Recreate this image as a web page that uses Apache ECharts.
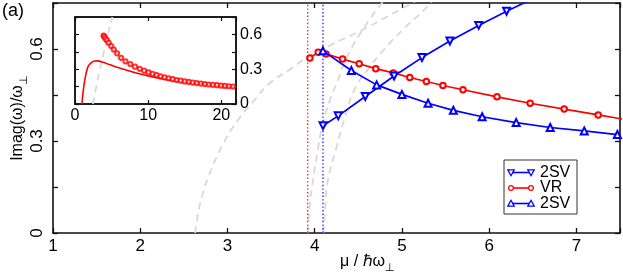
<!DOCTYPE html>
<html>
<head>
<meta charset="utf-8">
<script src="https://cdn.jsdelivr.net/npm/echarts@6/dist/echarts.min.js"></script>
<style>html,body{margin:0;padding:0;background:#fff}#c{width:623px;height:273px}</style>
</head>
<body>
<div id="c"></div>
<script>
// ---------- data ----------
// main panel
const xTicks = [1, 2, 3, 4, 5, 6, 7];
const yTickLabels = ['0', '0.3', '0.6'];
const yTickValues = [0, 0.3, 0.6];

const vrX = [3.945, 4.04, 4.13, 4.32, 4.51, 4.70, 4.90, 5.09, 5.28, 5.47, 5.70, 6.09, 6.47, 6.86, 7.25, 7.64];
const vrY = [0.571, 0.589, 0.584, 0.567, 0.552, 0.536, 0.522, 0.507, 0.494, 0.481, 0.467, 0.444, 0.423, 0.404, 0.385, 0.366];

const svDownX = [4.095, 4.27, 4.58, 4.91, 5.23, 5.55, 5.88, 6.20, 6.53];
const svDownY = [0.350, 0.382, 0.445, 0.512, 0.572, 0.626, 0.677, 0.723, 0.768];

const svUpX = [4.095, 4.42, 4.71, 5.00, 5.30, 5.59, 5.92, 6.31, 6.70, 7.09, 7.47];
const svUpY = [0.594, 0.530, 0.483, 0.452, 0.423, 0.400, 0.379, 0.360, 0.344, 0.333, 0.321];

const grayAX = [2.63, 2.66, 2.72, 2.80, 2.95, 3.10, 3.30, 3.49, 3.70, 3.90, 4.20, 4.55, 4.86, 5.15];
const grayAY = [0.00, 0.06, 0.13, 0.197, 0.29, 0.36, 0.43, 0.49, 0.53, 0.57, 0.615, 0.663, 0.71, 0.755];
const grayBX = [3.92, 3.94, 3.98, 4.03, 4.08, 4.17, 4.27, 4.38, 4.59, 4.80];
const grayBY = [0.00, 0.08, 0.17, 0.26, 0.34, 0.43, 0.50, 0.58, 0.68, 0.76];
const grayCX = [4.10, 4.12, 4.15, 4.25, 4.36, 4.46, 4.60, 4.80, 5.00, 5.30, 5.35];
const grayCY = [0.00, 0.08, 0.17, 0.28, 0.39, 0.47, 0.53, 0.60, 0.66, 0.74, 0.76];

const vrThreshold = 3.92;
const svThreshold = 4.095;

// inset
const insetXTicks = [0, 10, 20];
const insetLineX = [0.95, 1.1, 1.32, 1.76, 2.2, 2.7, 3.1, 3.6, 4.3, 5.5, 7.0, 8.5, 10, 12, 14, 16, 18, 20, 22];
const insetLineY = [0.0, 0.10, 0.20, 0.32, 0.355, 0.37, 0.372, 0.365, 0.35, 0.322, 0.293, 0.265, 0.241, 0.216, 0.196, 0.181, 0.167, 0.155, 0.143];
const insetDotX = [3.9, 4.0, 4.15, 4.35, 4.6, 4.95, 5.3, 5.75, 6.3, 6.9, 7.55, 8.2, 8.85, 9.45, 10.05, 10.6, 11.15, 11.7, 12.25, 12.8, 13.35, 13.9, 14.45, 15.0, 15.55, 16.1, 16.65, 17.2, 17.75, 18.3, 18.85, 19.4, 19.95, 20.5, 21.05, 21.6];
const insetDotY = [0.59, 0.58, 0.565, 0.55, 0.528, 0.50, 0.47, 0.437, 0.398, 0.368, 0.345, 0.322, 0.303, 0.287, 0.272, 0.26, 0.249, 0.239, 0.23, 0.222, 0.214, 0.207, 0.201, 0.195, 0.19, 0.185, 0.18, 0.176, 0.172, 0.168, 0.165, 0.162, 0.159, 0.156, 0.153, 0.15];
const insetGrayX = [2.45, 3.0, 3.4, 4.2, 5.1];
const insetGrayY = [0.0, 0.18, 0.30, 0.52, 0.75];

const legendNames = ['2SV', 'VR', '2SV'];

// ---------- helpers ----------
const zip = (xs, ys) => xs.map((x, i) => [x, ys[i]]);
const FONT = "'Liberation Sans', Arial, Helvetica, sans-serif";
const RED = '#ff0000', BLUE = '#0000ff', GRAY = '#d8d8d8';
const near = (v, arr) => arr.findIndex(a => Math.abs(a - v) < 1e-6);

function tickAxis(extra) {
  return Object.assign({
    type: 'value',
    axisLine: { show: true, onZero: false, lineStyle: { color: '#111', width: 1.6 } },
    axisTick: { show: true, inside: true, length: 5, lineStyle: { color: '#111', width: 1.3 } },
    splitLine: { show: false },
    axisLabel: { show: false }
  }, extra);
}

const chart = echarts.init(document.getElementById('c'), null, { renderer: 'canvas' });

const dashed = (xs, ys, xi, yi) => ({
  type: 'line', xAxisIndex: xi, yAxisIndex: yi, data: zip(xs, ys), smooth: true, showSymbol: false,
  symbol: 'none', lineStyle: { color: GRAY, width: 1.8, type: [7, 5] }, z: 1, silent: true
});

const vline = (x, color) => ({
  type: 'line', xAxisIndex: 0, yAxisIndex: 0, data: [[x, 0], [x, 0.75]], symbol: 'none',
  lineStyle: { color: color, width: 1.2, type: [1.4, 2.2] }, z: 2, silent: true
});

// legend graphic (not data)
const LG = { x: 504, y: 160, w: 73, h: 54 };
const legendStyles = [
  { color: BLUE, shape: 'down' },
  { color: RED, shape: 'circle' },
  { color: BLUE, shape: 'up' }
];
function legendMarker(cx, cy, st) {
  if (st.shape === 'circle') {
    return { type: 'circle', shape: { cx: cx, cy: cy, r: 2.4 }, style: { fill: '#fff', stroke: st.color, lineWidth: 1.2 } };
  }
  const s = 3.2;
  const pts = st.shape === 'up'
    ? [[cx, cy - s], [cx + s, cy + s * 0.8], [cx - s, cy + s * 0.8]]
    : [[cx, cy + s], [cx + s, cy - s * 0.8], [cx - s, cy - s * 0.8]];
  return { type: 'polygon', shape: { points: pts }, style: { fill: '#fff', stroke: st.color, lineWidth: 1.3 } };
}
const legendChildren = [{ type: 'rect', shape: { x: LG.x, y: LG.y, width: LG.w, height: LG.h }, style: { fill: '#fff', stroke: '#333', lineWidth: 1 } }];
legendNames.forEach((n, i) => {
  const cy = LG.y + 12.5 + i * 15.5;
  const st = legendStyles[i];
  legendChildren.push({ type: 'line', shape: { x1: LG.x + 7, y1: cy, x2: LG.x + 27, y2: cy }, style: { stroke: st.color, lineWidth: 1.6 } });
  legendChildren.push(legendMarker(LG.x + 7, cy, st));
  legendChildren.push(legendMarker(LG.x + 27, cy, st));
  legendChildren.push({ type: 'text', x: LG.x + 36, y: cy, style: { text: n, font: '16px ' + FONT, fill: '#000', verticalAlign: 'middle' } });
});

const option = {
  animation: false,
  backgroundColor: '#fff',
  grid: [
    { left: 53, top: 3, right: 3, bottom: 40, show: false, containLabel: false, outerBoundsMode: 'none' },
    { left: 75, top: 17, width: 161, height: 87, show: true, backgroundColor: '#fff', borderColor: '#111', borderWidth: 1.5, z: 3, containLabel: false, outerBoundsMode: 'none' }
  ],
  xAxis: [
    tickAxis({
      gridIndex: 0, position: 'bottom', min: 1, max: 7.5, interval: 1,
      axisLabel: {
        show: true, margin: 5, fontSize: 17, fontFamily: FONT, color: '#000',
        formatter: v => (near(v, xTicks) >= 0 ? String(xTicks[near(v, xTicks)]) : '')
      },
      name: '{t|μ / ℏω}{s|⊥}', nameLocation: 'middle', nameGap: 21, nameMoveOverlap: false,
      nameTextStyle: {
        padding: [0, 0, 0, 62],
        rich: {
          t: { fontSize: 16, fontFamily: FONT, color: '#000', lineHeight: 16, verticalAlign: 'top' },
          s: { fontSize: 11, fontFamily: FONT, color: '#000', lineHeight: 11, padding: [8, 0, 0, 0], verticalAlign: 'top' }
        }
      }
    }),
    tickAxis({ gridIndex: 0, position: 'top', min: 1, max: 7.5, interval: 1 }),
    tickAxis({
      gridIndex: 1, position: 'bottom', min: 0, max: 22, interval: 10, z: 4,
      axisLine: { show: true, onZero: false, lineStyle: { color: '#111', width: 1.5 } },
      axisTick: { show: true, inside: true, length: 4, lineStyle: { color: '#111', width: 1.2 } },
      axisLabel: {
        show: true, margin: 4, fontSize: 16, fontFamily: FONT, color: '#000',
        formatter: v => (near(v, insetXTicks) >= 0 ? String(insetXTicks[near(v, insetXTicks)]) : '')
      }
    }),
    tickAxis({
      gridIndex: 1, position: 'top', min: 0, max: 22, interval: 10, z: 4,
      axisLine: { show: true, onZero: false, lineStyle: { color: '#111', width: 1.5 } },
      axisTick: { show: true, inside: true, length: 4, lineStyle: { color: '#111', width: 1.2 } }
    })
  ],
  yAxis: [
    tickAxis({
      gridIndex: 0, position: 'left', min: 0, max: 0.75, interval: 0.15,
      axisLabel: {
        show: true, rotate: 90, margin: 7, fontSize: 17, fontFamily: FONT, color: '#000',
        formatter: v => (near(v, yTickValues) >= 0 ? yTickLabels[near(v, yTickValues)] : '')
      },
      name: '{t|Imag(ω)/ω}{s|⊥}', nameLocation: 'middle', nameGap: 27, nameMoveOverlap: false,
      nameTextStyle: {
        rich: {
          t: { fontSize: 16, fontFamily: FONT, color: '#000', lineHeight: 16, verticalAlign: 'top' },
          s: { fontSize: 11, fontFamily: FONT, color: '#000', lineHeight: 11, padding: [8, 0, 0, 0], verticalAlign: 'top' }
        }
      }
    }),
    tickAxis({ gridIndex: 0, position: 'right', min: 0, max: 0.75, interval: 0.15 }),
    tickAxis({
      gridIndex: 1, position: 'left', min: 0, max: 0.75, interval: 0.15, z: 4,
      axisLine: { show: true, onZero: false, lineStyle: { color: '#111', width: 1.5 } },
      axisTick: { show: true, inside: true, length: 4, lineStyle: { color: '#111', width: 1.2 } }
    }),
    tickAxis({
      gridIndex: 1, position: 'right', min: 0, max: 0.75, interval: 0.15, z: 4,
      axisLine: { show: true, onZero: false, lineStyle: { color: '#111', width: 1.5 } },
      axisTick: { show: true, inside: true, length: 4, lineStyle: { color: '#111', width: 1.2 } },
      axisLabel: {
        show: true, margin: 4, fontSize: 16, fontFamily: FONT, color: '#000',
        formatter: v => (near(v, yTickValues) >= 0 ? yTickLabels[near(v, yTickValues)] : '')
      }
    })
  ],
  series: [
    dashed(grayAX, grayAY, 0, 0),
    dashed(grayBX, grayBY, 0, 0),
    dashed(grayCX, grayCY, 0, 0),
    vline(vrThreshold, RED),
    vline(svThreshold, BLUE),
    {
      name: 'VR', type: 'line', xAxisIndex: 0, yAxisIndex: 0, data: zip(vrX, vrY),
      symbol: 'emptyCircle', symbolSize: 5.5, clip: true,
      lineStyle: { color: RED, width: 1.7 }, itemStyle: { color: RED, borderWidth: 1.2 }, z: 3
    },
    {
      name: '2SV', type: 'line', xAxisIndex: 0, yAxisIndex: 0, data: zip(svDownX, svDownY),
      symbol: 'emptyTriangle', symbolRotate: 180, symbolSize: 7, clip: true,
      lineStyle: { color: BLUE, width: 1.7 }, itemStyle: { color: BLUE, borderWidth: 1.3 }, z: 4
    },
    {
      name: '2SV up', type: 'line', xAxisIndex: 0, yAxisIndex: 0, data: zip(svUpX, svUpY),
      symbol: 'emptyTriangle', symbolSize: 7, clip: true,
      lineStyle: { color: BLUE, width: 1.7 }, itemStyle: { color: BLUE, borderWidth: 1.3 }, z: 4
    },
    Object.assign(dashed(insetGrayX, insetGrayY, 2, 2), { z: 5, smooth: true }),
    {
      type: 'line', xAxisIndex: 2, yAxisIndex: 2, data: zip(insetLineX, insetLineY), smooth: 0.4,
      symbol: 'none', clip: true, lineStyle: { color: RED, width: 1.6 }, z: 6
    },
    {
      type: 'scatter', xAxisIndex: 2, yAxisIndex: 2, data: zip(insetDotX, insetDotY),
      symbol: 'emptyCircle', symbolSize: 4.2, clip: true,
      itemStyle: { color: RED, borderColor: RED, borderWidth: 1.1 }, z: 7
    }
  ],
  graphic: [
    { type: 'text', left: 2, top: 2, z: 100, style: { text: '(a)', font: '18px ' + FONT, fill: '#000' } },
    { type: 'group', z: 100, children: legendChildren }
  ]
};
chart.setOption(option);
</script>
</body>
</html>
